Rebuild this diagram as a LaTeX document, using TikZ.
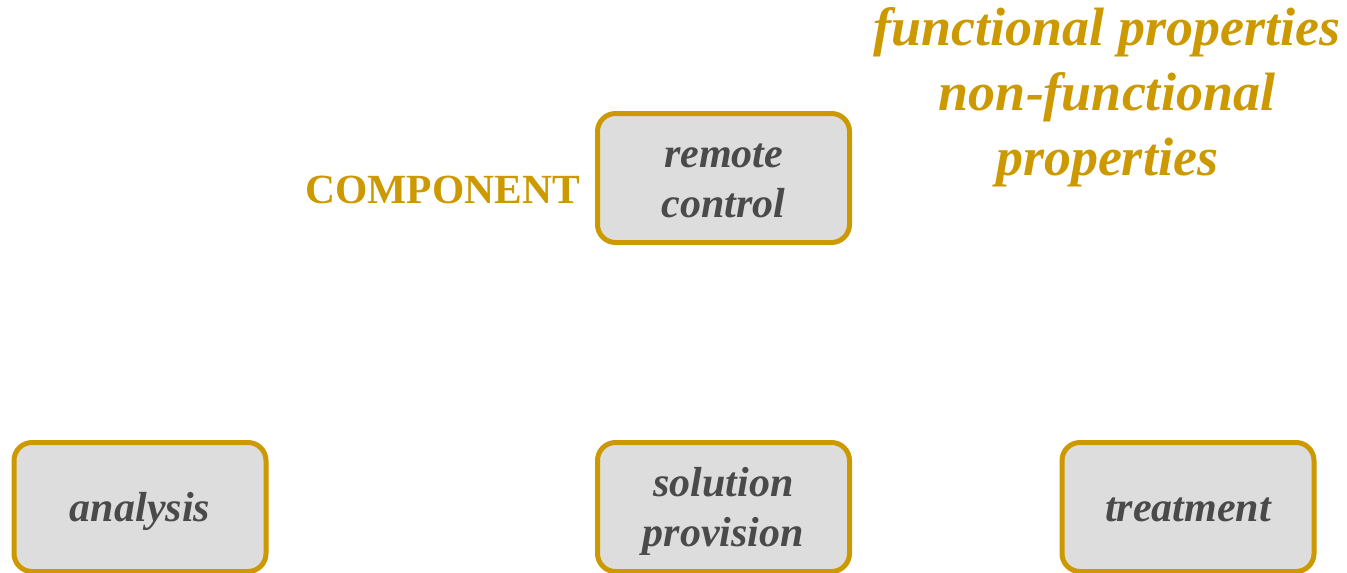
\documentclass[tikz,border=0pt]{standalone}
\usepackage{fontspec}
\setmainfont{Liberation Serif}
\definecolor{gold}{HTML}{CC9900}
\definecolor{boxfill}{HTML}{DDDDDD}
\definecolor{boxtext}{HTML}{4A4A4A}
% struts that fix the height of a first line
\newcommand\boxtop{\rule{0pt}{39pt}}
\newcommand\proptop{\rule{0pt}{42pt}}
\tikzset{
  stepbox/.style={draw=gold, line width=5pt, fill=boxfill, rounded corners=18pt,
    minimum width=252pt, minimum height=129pt, align=center, text=boxtext,
    inner sep=0pt, execute at end node={\rule[-10pt]{0pt}{10pt}},
    font=\bfseries\itshape\fontsize{42}{50}\selectfont},
  goldlabel/.style={text=gold, inner sep=0pt, font=\bfseries\fontsize{41.5}{48}\selectfont},
  proplabel/.style={text=gold, inner sep=0pt, align=center,
    execute at end node={\rule[-14pt]{0pt}{14pt}},
    font=\bfseries\itshape\fontsize{54}{65}\selectfont}
}
\begin{document}
\begin{tikzpicture}[x=1pt,y=-1pt]
  \useasboundingbox (0,0) rectangle (1347,573);
  % components
  \node[stepbox] (remote) at (723.5,178) {\boxtop remote\\control};
  \node[stepbox] (analysis) at (140,507) {\boxtop analysis};
  \node[stepbox] (solution) at (723.5,507) {\boxtop solution\\provision};
  \node[stepbox] (treatment) at (1188,507) {\boxtop treatment};
  % labels
  \node[goldlabel, anchor=base east] (comp) at (580,203) {COMPONENT};
  \node[proplabel] (props) at (1107,96) {\proptop functional properties\\non-functional\\properties};
\end{tikzpicture}
\end{document}
